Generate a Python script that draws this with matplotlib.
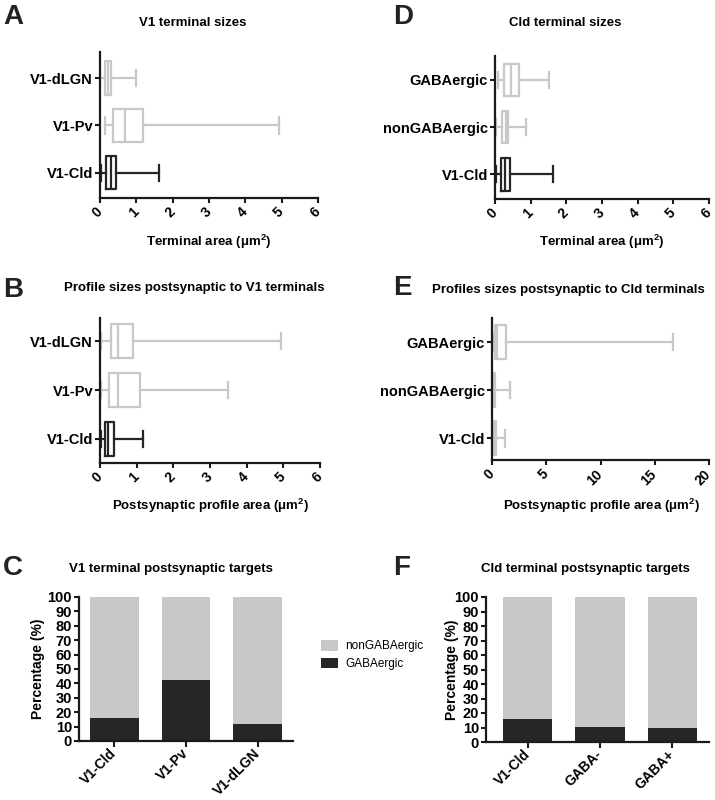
import matplotlib
matplotlib.use('Agg')
import matplotlib.pyplot as plt

plt.rcParams['font.family'] = ['Liberation Sans', 'DejaVu Sans']
plt.rcParams['mathtext.fontset'] = 'custom'
plt.rcParams['mathtext.rm'] = 'Liberation Sans'
plt.rcParams['mathtext.bf'] = 'Liberation Sans:bold'

# ---------------- data ----------------
a_labels = ['V1-Cld', 'V1-Pv', 'V1-dLGN']
a_min = [0.02, 0.14, 0.0]
a_q1 = [0.165, 0.37, 0.14]
a_med = [0.29, 0.69, 0.22]
a_q3 = [0.43, 1.19, 0.30]
a_max = [1.63, 4.93, 0.99]

b_labels = ['V1-Cld', 'V1-Pv', 'V1-dLGN']
b_min = [0.03, 0.03, 0.03]
b_q1 = [0.13, 0.25, 0.29]
b_med = [0.23, 0.50, 0.50]
b_q3 = [0.38, 1.09, 0.89]
b_max = [1.18, 3.50, 4.94]

d_labels = ['V1-Cld', 'nonGABAergic', 'GABAergic']
d_min = [0.02, 0.02, 0.075]
d_q1 = [0.165, 0.19, 0.26]
d_med = [0.29, 0.30, 0.45]
d_q3 = [0.43, 0.37, 0.68]
d_max = [1.63, 0.86, 1.51]

e_labels = ['V1-Cld', 'nonGABAergic', 'GABAergic']
e_min = [0.03, 0.02, 0.10]
e_q1 = [0.10, 0.05, 0.25]
e_med = [0.23, 0.15, 0.50]
e_q3 = [0.38, 0.30, 1.32]
e_max = [1.18, 1.70, 16.7]

c_labels = ['V1-Cld', 'V1-Pv', 'V1-dLGN']
c_gaba = [15.8, 42.3, 12.1]
f_labels = ['V1-Cld', 'GABA-', 'GABA+']
f_gaba = [15.8, 10.6, 9.9]

LIGHT = '#c8c8c8'
DARK = '#262626'
W, H = 715, 800

fig = plt.figure(figsize=(W / 100, H / 100), dpi=100)


def rect(l, t, r, b):
    return [l / W, 1 - b / H, (r - l) / W, (b - t) / H]


def style_axes(ax):
    for s in ['top', 'right']:
        ax.spines[s].set_visible(False)
    for s in ['left', 'bottom']:
        ax.spines[s].set_linewidth(1.6)
        ax.spines[s].set_color('#1a1a1a')
    ax.tick_params(direction='out', length=3.5, width=1.5, color='#1a1a1a', pad=1.5)


def box_panel(r, labels, mn, q1, med, q3, mx, colors, xmax, xstep, ylim):
    ax = fig.add_axes(rect(*r))
    style_axes(ax)
    for i in range(len(labels)):
        st = [dict(med=med[i], q1=q1[i], q3=q3[i], whislo=mn[i], whishi=mx[i], fliers=[])]
        c = colors[i]
        props = dict(color=c, linewidth=1.6)
        ax.bxp(st, positions=[i + 1], widths=0.7, orientation='horizontal',
               boxprops=props, whiskerprops=props, capprops=props,
               medianprops=props, showfliers=False, capwidths=0.34)
    ax.set_xlim(0, xmax)
    ax.set_ylim(*ylim)
    ax.set_yticks(range(1, len(labels) + 1))
    ax.set_yticklabels(labels, fontsize=10.5, fontweight='bold')
    xt = list(range(0, xmax + 1, xstep))
    ax.set_xticks(xt)
    ax.set_xticklabels([str(v) for v in xt], fontsize=10, fontweight='bold',
                       rotation=45, ha='right', va='center', rotation_mode='anchor')
    ax.tick_params(axis='x', pad=5)
    return ax


box_panel((100, 52, 318, 198), a_labels, a_min, a_q1, a_med, a_q3, a_max,
          [DARK, LIGHT, LIGHT], 6, 1, (0.47, 3.55))
box_panel((100, 318, 320, 463), b_labels, b_min, b_q1, b_med, b_q3, b_max,
          [DARK, LIGHT, LIGHT], 6, 1, (0.51, 3.47))
box_panel((495, 56, 709, 199), d_labels, d_min, d_q1, d_med, d_q3, d_max,
          [DARK, LIGHT, LIGHT], 6, 1, (0.47, 3.51))
box_panel((492, 318, 709, 460), e_labels, e_min, e_q1, e_med, e_q3, e_max,
          [LIGHT, LIGHT, LIGHT], 20, 5, (0.55, 3.5))


def bar_panel(r, labels, gaba, xlim, ylab_x):
    ax = fig.add_axes(rect(*r))
    style_axes(ax)
    x = list(range(1, len(labels) + 1))
    non = [100 - g for g in gaba]
    b1 = ax.bar(x, gaba, width=0.68, color=DARK, label='GABAergic')
    b2 = ax.bar(x, non, bottom=gaba, width=0.68, color=LIGHT, label='nonGABAergic')
    ax.set_ylim(0, 100)
    ax.set_xlim(*xlim)
    ax.set_yticks(range(0, 101, 10))
    ax.set_yticklabels([str(v) for v in range(0, 101, 10)], fontsize=10.5, fontweight='bold')
    ax.set_xticks(x)
    ax.set_xticklabels(labels, fontsize=10, fontweight='bold', rotation=45,
                       ha='right', va='center', rotation_mode='anchor')
    ax.tick_params(axis='x', pad=3, length=4.5)
    ax.set_ylabel('Percentage (%)', fontsize=10, fontweight='bold')
    # label is drawn to the left of its anchor; shift so its centre lands on ylab_x
    x_axes = (ylab_x + 7 - r[0]) / (r[2] - r[0])
    ax.yaxis.set_label_coords(x_axes, 0.5)
    return ax, b1, b2


axc, cb1, cb2 = bar_panel((79, 597, 293, 741), c_labels, c_gaba, (0.51, 3.49), 38)
axf, fb1, fb2 = bar_panel((486, 597, 709, 742), f_labels, f_gaba, (0.42, 3.51), 452)

fig.legend([cb2, cb1], ['nonGABAergic', 'GABAergic'], loc='upper left',
           bbox_to_anchor=(321 / W, 1 - 640 / H), frameon=False, fontsize=8.5,
           handlelength=1.45, handleheight=1.0, handletextpad=0.6, labelspacing=0.45,
           borderaxespad=0, borderpad=0)


def ftext(x, y, s, **kw):
    fig.text(x / W, 1 - y / H, s, **kw)


# panel letters
for (x, y, s) in [(3, 17, 'A'), (3, 290, 'B'), (3, 568, 'C'),
                  (393, 17, 'D'), (393, 288, 'E'), (393, 568, 'F')]:
    ftext(x, y, s, fontsize=20, fontweight='bold', ha='left', va='center', color='#222222')

# titles
ftext(193, 23, 'V1 terminal sizes', fontsize=9.5, fontweight='bold', ha='center', va='center')
ftext(565, 23, 'Cld terminal sizes', fontsize=9.5, fontweight='bold', ha='center', va='center')
ftext(194, 288, 'Profile sizes postsynaptic to V1 terminals', fontsize=9.5,
      fontweight='bold', ha='center', va='center')
ftext(568, 290, 'Profiles sizes postsynaptic to Cld terminals', fontsize=9.5,
      fontweight='bold', ha='center', va='center')
ftext(171, 569, 'V1 terminal postsynaptic targets', fontsize=9.5, fontweight='bold',
      ha='center', va='center')
ftext(585, 569, 'Cld terminal postsynaptic targets', fontsize=9.5, fontweight='bold',
      ha='center', va='center')

# x labels
xl1 = 'Terminal area (μm$\\mathbf{^{2}}$)'
xl2 = 'Postsynaptic profile area (μm$\\mathbf{^{2}}$)'
ftext(209, 242, xl1, fontsize=9.5, fontweight='bold', ha='center', va='center')
ftext(602, 242, xl1, fontsize=9.5, fontweight='bold', ha='center', va='center')
ftext(210, 506, xl2, fontsize=9.5, fontweight='bold', ha='center', va='center')
ftext(601, 506, xl2, fontsize=9.5, fontweight='bold', ha='center', va='center')

fig.savefig('out.png', dpi=100)
